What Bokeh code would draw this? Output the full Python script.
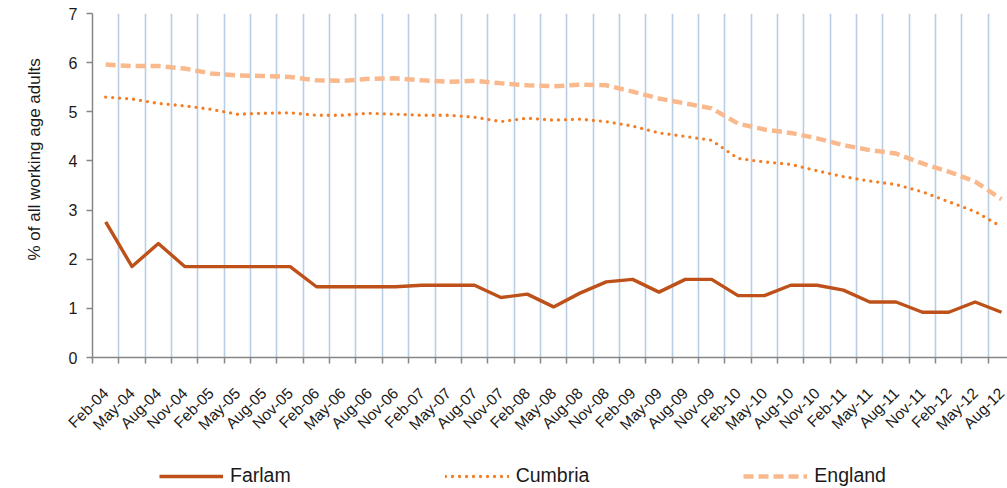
import numpy as np
from bokeh.plotting import figure
from bokeh.layouts import column
from bokeh.models import Range1d, FixedTicker, Legend, LegendItem, Title
from bokeh.embed import file_html
from bokeh.resources import INLINE

categories = ["Feb-04", "May-04", "Aug-04", "Nov-04", "Feb-05", "May-05", "Aug-05", "Nov-05",
              "Feb-06", "May-06", "Aug-06", "Nov-06", "Feb-07", "May-07", "Aug-07", "Nov-07",
              "Feb-08", "May-08", "Aug-08", "Nov-08", "Feb-09", "May-09", "Aug-09", "Nov-09",
              "Feb-10", "May-10", "Aug-10", "Nov-10", "Feb-11", "May-11", "Aug-11", "Nov-11",
              "Feb-12", "May-12", "Aug-12"]

farlam = [2.76, 1.85, 2.32, 1.85, 1.85, 1.85, 1.85, 1.85, 1.44, 1.44, 1.44, 1.44,
          1.47, 1.47, 1.47, 1.22, 1.29, 1.03, 1.31, 1.54, 1.59, 1.33, 1.59, 1.59,
          1.26, 1.26, 1.47, 1.47, 1.37, 1.13, 1.13, 0.92, 0.92, 1.13, 0.92]

cumbria = [5.30, 5.26, 5.17, 5.12, 5.05, 4.95, 4.97, 4.98, 4.93, 4.93, 4.97, 4.95,
           4.93, 4.93, 4.89, 4.80, 4.87, 4.83, 4.85, 4.80, 4.71, 4.57, 4.50, 4.42,
           4.05, 3.98, 3.93, 3.80, 3.68, 3.59, 3.52, 3.37, 3.17, 2.97, 2.66]

england = [5.96, 5.93, 5.93, 5.88, 5.78, 5.74, 5.73, 5.71, 5.64, 5.63, 5.67, 5.68,
           5.64, 5.61, 5.63, 5.58, 5.54, 5.52, 5.55, 5.54, 5.41, 5.27, 5.17, 5.07,
           4.76, 4.64, 4.57, 4.46, 4.32, 4.22, 4.15, 3.95, 3.78, 3.58, 3.22]

series_names = ["Farlam", "Cumbria", "England"]
y_ticks = [0, 1, 2, 3, 4, 5, 6, 7]
y_title = "% of all working age adults"

FONT = "Liberation Sans"
n = len(categories)
xs = list(range(n))
SERIES = {"Farlam": farlam, "Cumbria": cumbria, "England": england}

STYLES = {
    "England": dict(line_color="#FAB98C", line_width=4.5, line_dash="10 5"),
    "Cumbria": dict(line_color="#F57D23", line_width=3.3, line_dash="0 7", line_cap="round"),
    "Farlam": dict(line_color="#BE5119", line_width=3.4, line_join="round"),
}

p = figure(frame_width=919, frame_height=344, output_backend="svg", toolbar_location=None,
           x_range=Range1d(-0.5, n - 0.62), y_range=Range1d(0, 7),
           min_border_left=88, min_border_right=0, min_border_top=13, min_border_bottom=101)
p.outline_line_color = None
p.background_fill_color = "white"

# grid at category boundaries
p.ygrid.grid_line_color = None
p.xgrid.ticker = FixedTicker(ticks=[i + 0.5 for i in range(n - 1)])
p.xgrid.grid_line_color = "#B9CDE5"
p.xgrid.grid_line_width = 1.6

# x axis
xa = p.xaxis[0]
xa.ticker = FixedTicker(ticks=xs, minor_ticks=[i - 0.5 for i in range(n + 1)])
xa.major_label_overrides = {i: c for i, c in enumerate(categories)}
xa.major_label_orientation = np.pi / 4
xa.major_tick_line_color = None
xa.major_tick_out = 6
xa.major_tick_in = 0
xa.minor_tick_line_color = "#868686"
xa.minor_tick_line_width = 1.5
xa.minor_tick_out = 6
xa.minor_tick_in = 0
xa.axis_line_color = "#868686"
xa.axis_line_width = 1.5
xa.major_label_text_font = FONT
xa.major_label_text_font_size = "15.5px"
xa.major_label_text_color = "#1a1a1a"
xa.major_label_standoff = 27

# y axis
ya = p.yaxis[0]
ya.ticker = FixedTicker(ticks=y_ticks)
ya.minor_tick_line_color = None
ya.major_tick_line_color = "#868686"
ya.major_tick_line_width = 1.5
ya.major_tick_out = 6
ya.major_tick_in = 0
ya.axis_line_color = "#868686"
ya.axis_line_width = 1.5
ya.major_label_text_font = FONT
ya.major_label_text_font_size = "16px"
ya.major_label_text_color = "#1a1a1a"
ya.major_label_standoff = 9

p.add_layout(Title(text=y_title, align="left", offset=97, standoff=44,
                   text_font=FONT, text_font_size="17px", text_font_style="normal",
                   text_color="#1a1a1a"), "left")

for name in ["England", "Cumbria", "Farlam"]:
    p.line(xs, SERIES[name], **STYLES[name])

# legend strip below the chart (its frame is aligned with the chart frame)
lg = figure(width=1007, height=30, output_backend="svg", toolbar_location=None,
            x_range=Range1d(0, 1), y_range=Range1d(-20, -19),
            x_axis_location=None, y_axis_location=None, min_border=0)
lg.outline_line_color = None
lg.xgrid.visible = False
lg.ygrid.visible = False
items = []
for name in series_names:
    r = lg.line(xs, SERIES[name], **STYLES[name])
    items.append(LegendItem(label=name, renderers=[r]))

legend = Legend(items=items, orientation="horizontal", location=(67, 1),
                glyph_width=64, glyph_height=20, label_standoff=7, spacing=154,
                label_text_font=FONT, label_text_font_size="19.5px", label_text_color="#1a1a1a",
                border_line_color=None, background_fill_alpha=0, margin=0, padding=3)
lg.add_layout(legend)

layout = column(p, lg, spacing=0)
open("out.html", "w").write(file_html(layout, INLINE))
